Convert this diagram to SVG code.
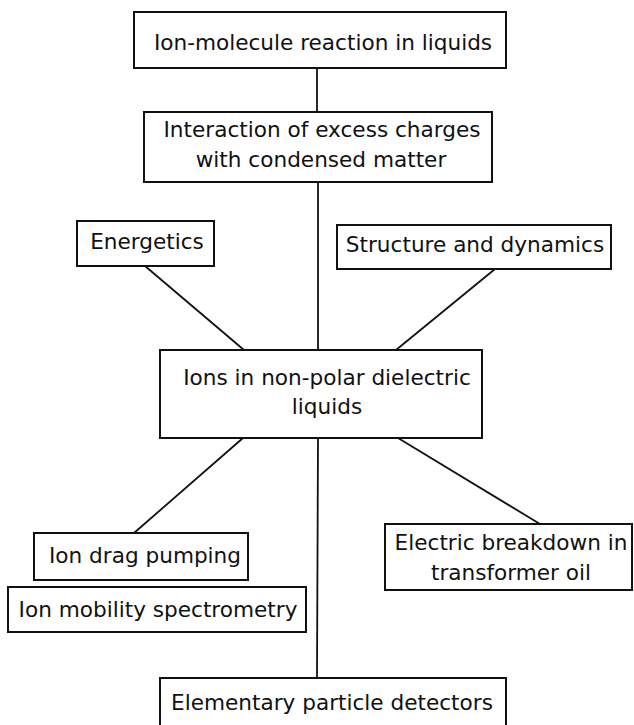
<svg xmlns="http://www.w3.org/2000/svg" width="634" height="725" viewBox="0 0 634 725">
<style>
.box{fill:#fff;stroke:#111;stroke-width:2}
.t{font-family:"DejaVu Sans","Liberation Sans",sans-serif;font-size:21.6px;fill:#111;text-anchor:middle}
.c line{stroke:#111;stroke-width:1.8}
</style>
<rect width="634" height="725" fill="#fff"/>
<g class="c" id="connectors">
<line x1="317" y1="68" x2="317" y2="112"/>
<line x1="318" y1="182" x2="318" y2="350"/>
<line x1="145" y1="266" x2="244" y2="350"/>
<line x1="495" y1="269" x2="396" y2="350"/>
<line x1="243" y1="438" x2="134" y2="533"/>
<line x1="318" y1="438" x2="317" y2="678"/>
<line x1="398" y1="438" x2="540" y2="524"/>
</g>
<g id="n1"><rect class="box" x="134" y="12" width="372" height="56"/><text class="t" x="323" y="50">Ion-molecule reaction in liquids</text></g>
<g id="n2"><rect class="box" x="144" y="112" width="348" height="70"/><text class="t" x="322" y="137">Interaction of excess charges</text><text class="t" x="321" y="167">with condensed matter</text></g>
<g id="n3"><rect class="box" x="77" y="221" width="137" height="45"/><text class="t" x="147" y="249">Energetics</text></g>
<g id="n4"><rect class="box" x="337" y="225" width="274" height="44"/><text class="t" x="475" y="252">Structure and dynamics</text></g>
<g id="n5"><rect class="box" x="160" y="350" width="322" height="88"/><text class="t" x="327" y="385">Ions in non-polar dielectric</text><text class="t" x="327" y="414">liquids</text></g>
<g id="n6"><rect class="box" x="34" y="533" width="214" height="47"/><text class="t" x="145" y="563">Ion drag pumping</text></g>
<g id="n7"><rect class="box" x="8" y="587" width="298" height="45"/><text class="t" x="158" y="617">Ion mobility spectrometry</text></g>
<g id="n8"><rect class="box" x="385" y="524" width="247" height="66"/><text class="t" x="511" y="550">Electric breakdown in</text><text class="t" x="511" y="580">transformer oil</text></g>
<g id="n9"><rect class="box" x="160" y="678" width="346" height="52"/><text class="t" x="332" y="710">Elementary particle detectors</text></g>
</svg>
